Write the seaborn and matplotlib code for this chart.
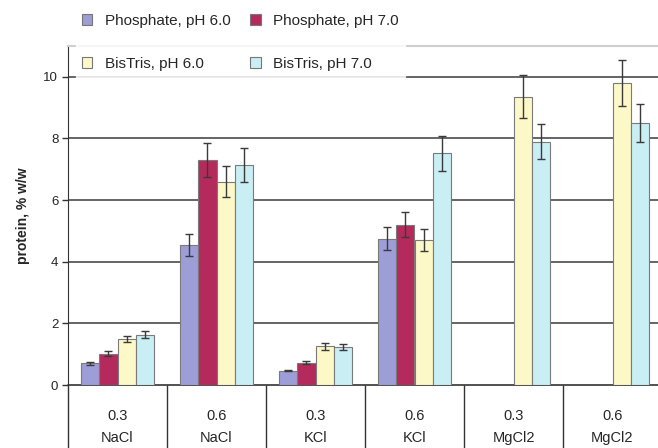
import numpy as np
import pandas as pd
import matplotlib
matplotlib.use("Agg")
import matplotlib.pyplot as plt
import matplotlib.transforms as mtransforms
from matplotlib.patches import Patch
import seaborn as sns

# data
salts = ["NaCl", "NaCl", "KCl", "KCl", "MgCl2", "MgCl2"]
conc = ["0.3", "0.6", "0.3", "0.6", "0.3", "0.6"]
buffers = ["Phosphate, pH 6.0", "Phosphate, pH 7.0", "BisTris, pH 6.0", "BisTris, pH 7.0"]

phos_60 = [0.70, 4.55, 0.47, 4.75, np.nan, np.nan]
phos_70 = [1.02, 7.30, 0.72, 5.20, np.nan, np.nan]
bis_60 = [1.48, 6.60, 1.25, 4.70, 9.35, 9.80]
bis_70 = [1.63, 7.15, 1.23, 7.52, 7.90, 8.50]

phos_60_err = [0.05, 0.35, 0.03, 0.38, np.nan, np.nan]
phos_70_err = [0.07, 0.55, 0.05, 0.40, np.nan, np.nan]
bis_60_err = [0.10, 0.50, 0.10, 0.35, 0.70, 0.74]
bis_70_err = [0.12, 0.55, 0.10, 0.57, 0.58, 0.63]

colors = ["#9d9dd8", "#b52a5c", "#fdf8c8", "#c9eef3"]

values = [phos_60, phos_70, bis_60, bis_70]
errors = [phos_60_err, phos_70_err, bis_60_err, bis_70_err]
groups = [f"{c}\n{s}" for c, s in zip(conc, salts)]

rows = []
for b, vals, errs in zip(buffers, values, errors):
    for g, v, e in zip(groups, vals, errs):
        rows.append({"group": g, "buffer": b, "value": v, "err": e})
df = pd.DataFrame(rows)

sns.set_style("white")
plt.rcParams["font.family"] = ["Liberation Sans", "DejaVu Sans"]

fig = plt.figure(figsize=(6.58, 4.48), dpi=100)
ax = fig.add_axes([68 / 658, 63 / 448, 594 / 658, 339 / 448])

sns.barplot(data=df.dropna(subset=["value"]), x="group", y="value", hue="buffer",
            order=groups, hue_order=buffers, palette=colors, width=0.74,
            errorbar=None, edgecolor="#7a7a7a", linewidth=0.8, saturation=1,
            legend=False, ax=ax, zorder=3)

# error bars at the bar centres
for cont, vals, errs in zip(ax.containers, values, errors):
    for bar in cont:
        xc = bar.get_x() + bar.get_width() / 2
        gi = int(round(xc))
        ax.errorbar(xc, vals[gi], yerr=errs[gi], fmt="none", ecolor="#3a3a3a",
                    elinewidth=1, capsize=3, capthick=1, zorder=4)

ax.set_ylim(0, 11)
ax.set_xlim(-0.5, 5.5)
ax.set_yticks([0, 2, 4, 6, 8, 10])
for yv in [2, 4, 6, 8, 10]:
    ax.axhline(yv, color="#4a4a4a", lw=1.2, zorder=1)

ax.set_xlabel("")
ax.set_ylabel("protein, % w/w", fontsize=10, fontweight="bold", labelpad=10)
ax.tick_params(axis="y", direction="out", length=4, width=1, color="#333333",
               labelsize=9.5, pad=3, left=True)
ax.tick_params(axis="x", length=0, labelsize=10.5, pad=17)
for lab in ax.get_xticklabels():
    lab.set_linespacing(1.75)

for side in ["right", "bottom"]:
    ax.spines[side].set_visible(False)
ax.spines["left"].set_color("#333333")
ax.spines["top"].set_color("#cfcfcf")
ax.spines["top"].set_linewidth(1.5)

# category table lines under the axis
trans = mtransforms.blended_transform_factory(ax.transData, ax.transAxes)
ax.plot([-0.5, 5.5], [0, 0], transform=trans, color="#333333", lw=1.2, clip_on=False)
ax.vlines(np.arange(-0.5, 6), -0.2, 0, transform=trans, color="#333333",
          lw=1, clip_on=False)

# legend filled column by column, so order gives rows P6/P7 then B6/B7
handles = [Patch(facecolor=c, edgecolor="#777777", linewidth=0.8) for c in colors]
order = [0, 2, 1, 3]
leg = fig.legend([handles[i] for i in order], [buffers[i] for i in order],
                 loc="upper left", bbox_to_anchor=(68 / 658, 1.0),
                 ncol=2, frameon=True, fontsize=11, handlelength=0.7, handleheight=0.7,
                 handletextpad=0.8, labelspacing=1.9, columnspacing=1.3,
                 borderpad=0.4)
leg.get_frame().set_facecolor("white")
leg.get_frame().set_edgecolor("white")
leg.get_frame().set_boxstyle("square", pad=0)

fig.savefig("out.png", dpi=100)
